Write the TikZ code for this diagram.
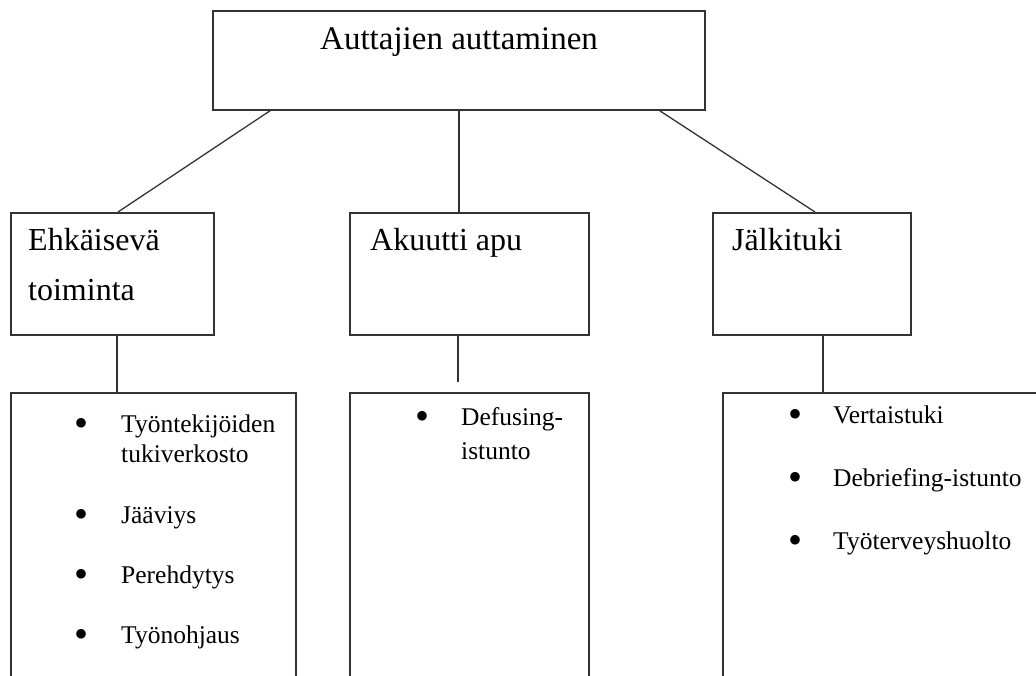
\documentclass[tikz,border=0pt]{standalone}
\usepackage{fontspec}
\setmainfont{Liberation Serif}
\begin{document}
\begin{tikzpicture}[x=1pt,y=-1pt,
  box/.style={draw=black!80,line width=1.8pt,rectangle,anchor=north west,inner sep=0pt,minimum width=#1},
  conn/.style={draw=black!80,line width=1.3pt},
  big/.style={anchor=base west,inner sep=0pt,font=\fontsize{33}{33}\selectfont},
  mid/.style={anchor=base west,inner sep=0pt,font=\fontsize{32}{32}\selectfont},
  item/.style={anchor=base west,inner sep=0pt,font=\fontsize{25.5}{25.5}\selectfont},
  bul/.style={anchor=base,inner sep=0pt,font=\fontsize{40}{40}\selectfont}]
\useasboundingbox (0,0) rectangle (1036,675);
\clip (0,0) rectangle (1036,675);
% boxes
\node[box=492pt,minimum height=99pt] (top) at (212,10) {};
\node[box=203pt,minimum height=122pt] (ehk) at (10,212) {};
\node[box=239pt,minimum height=122pt] (aku) at (349,212) {};
\node[box=198pt,minimum height=122pt] (jal) at (712,212) {};
\node[box=285pt,minimum height=300pt] (l1) at (10,392) {};
\node[box=239pt,minimum height=300pt] (l2) at (349,392) {};
\node[box=330pt,minimum height=300pt] (l3) at (722,392) {};
% connectors
\draw[conn] ([xshift=58pt]top.south west) -- ([xshift=108pt]ehk.north west);
\draw[conn] (top.south) -- (top.south |- aku.north);
\draw[conn] ([xshift=-46pt]top.south east) -- ([xshift=103pt]jal.north west);
\draw[conn] ([xshift=107pt]ehk.south west) -- ([xshift=107pt]ehk.south west |- l1.north);
\coordinate (akuend) at (458,382);
\draw[conn] (aku.south -| akuend) -- (akuend);
\draw[conn] ([xshift=111pt]jal.south west) -- ([xshift=111pt]jal.south west |- l3.north);
% texts
\node[big] (t0) at (320,49) {Auttajien auttaminen};
\node[mid] (t1) at (28,250) {Ehkäisevä};
\node[mid] (t1b) at (28,300) {toiminta};
\node[mid] (t2) at (370,250) {Akuutti apu};
\node[mid] (t3) at (732,250) {Jälkituki};
% left list
\node[bul] (b11) at (82,436) {•};
\node[item] (i11) at (121,432) {Työntekijöiden};
\node[item] (i11b) at (121,462) {tukiverkosto};
\node[bul] (b12) at (82,527) {•};
\node[item] (i12) at (121,523) {Jääviys};
\node[bul] (b13) at (82,587) {•};
\node[item] (i13) at (121,583) {Perehdytys};
\node[bul] (b14) at (82,647) {•};
\node[item] (i14) at (121,643) {Työnohjaus};
% middle list
\node[bul] (b21) at (422,429) {•};
\node[item] (i21) at (461,425) {Defusing-};
\node[item] (i21b) at (461,459) {istunto};
% right list
\node[bul] (b31) at (795,427) {•};
\node[item] (i31) at (833,423) {Vertaistuki};
\node[bul] (b32) at (795,490) {•};
\node[item] (i32) at (833,486) {Debriefing-istunto};
\node[bul] (b33) at (795,553) {•};
\node[item] (i33) at (833,549) {Työterveyshuolto};
\end{tikzpicture}
\end{document}
